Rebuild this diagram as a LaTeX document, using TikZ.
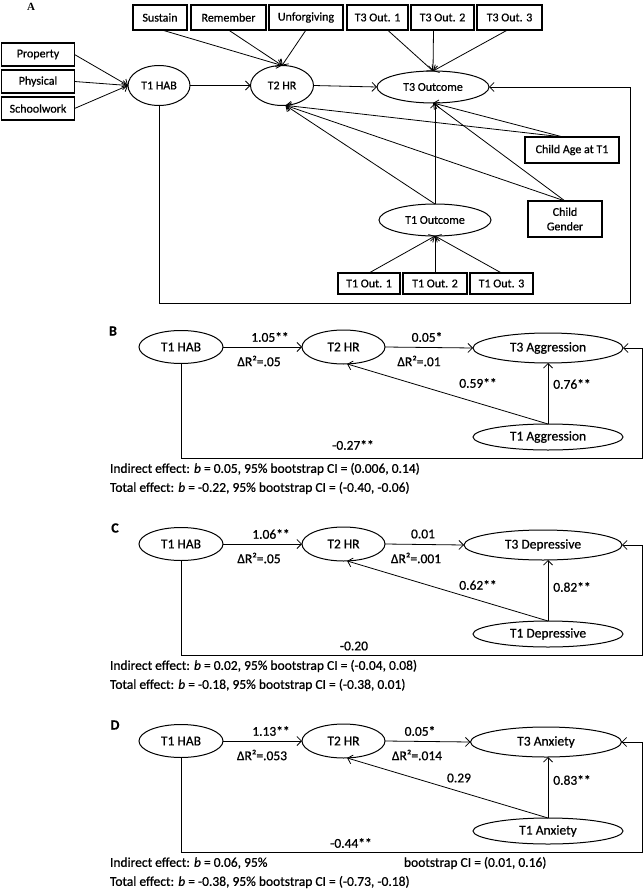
\documentclass[tikz,border=0pt]{standalone}
\usepackage{fontspec}
\setmainfont{Carlito}[RawFeature={embolden=0.7}]
\newfontfamily\serifA{Liberation Serif}
\usetikzlibrary{shapes.geometric,arrows.meta,calc}
\begin{document}
\begin{tikzpicture}[x=1pt,y=-1pt,
  every node/.style={inner sep=0pt,outer sep=0pt},
  fa/.style={font=\fontsize{12}{14.5}\selectfont},
  fb/.style={font=\fontsize{13.5}{16}\selectfont},
  bx/.style={draw,line width=1.2pt,fa,align=center},
  el/.style={draw,ellipse,line width=1pt},
  ar/.style={line width=0.8pt,-{Straight Barb[length=4.5pt,width=9pt,line width=0.8pt]}},
  letterbcd/.style={font=\bfseries\fontsize{14}{16}\selectfont},
]
\useasboundingbox (0,0) rectangle (644,893);

% ---------------- Panel A ----------------
\node[font=\serifA\bfseries\fontsize{11}{13}\selectfont] (labA) at (31,7) {A};

\node[bx,minimum width=54pt,minimum height=25pt] (sus) at (160,17.5) {Sustain};
\node[bx,minimum width=75pt,minimum height=25pt] (rem) at (228.5,17.5) {Remember};
\node[bx,minimum width=74pt,minimum height=25pt] (unf) at (306,17.5) {Unforgiving};
\node[bx,minimum width=61pt,minimum height=25pt] (oa) at (377.5,17.5) {T3 Out. 1};
\node[bx,minimum width=63pt,minimum height=25pt] (ob) at (442.5,17.5) {T3 Out. 2};
\node[bx,minimum width=65pt,minimum height=25pt] (oc) at (509.5,17.5) {T3 Out. 3};

\node[bx,minimum width=73pt,minimum height=23pt] (prop) at (38,54.5) {Property};
\node[bx,minimum width=73pt,minimum height=23pt] (phys) at (38,81.5) {Physical};
\node[bx,minimum width=73pt,minimum height=23pt] (school) at (38,108.5) {Schoolwork};

\node[el,fa,minimum width=62pt,minimum height=40pt] (hab) at (159,85.5) {T1 HAB};
\node[el,fa,minimum width=63pt,minimum height=40pt] (hr) at (282,85.5) {T2 HR};
\node[el,fa,minimum width=112pt,minimum height=32pt] (t3o) at (433,87) {T3 Outcome};
\node[el,fa,minimum width=112pt,minimum height=32pt] (t1o) at (435,220) {T1 Outcome};

\node[bx,minimum width=94pt,minimum height=26pt] (age) at (572,150) {Child Age at T1};
\node[bx,minimum width=74pt,minimum height=36pt] (gen) at (565,219) {Child\\Gender};

\node[bx,minimum width=62pt,minimum height=21pt] (pa) at (369,283.5) {T1 Out. 1};
\node[bx,minimum width=64pt,minimum height=21pt] (pb) at (435,283.5) {T1 Out. 2};
\node[bx,minimum width=63pt,minimum height=21pt] (pc) at (501.5,283.5) {T1 Out. 3};

\draw[ar] (prop.east) -- (hab.west);
\draw[ar] (phys.east) -- (hab.west);
\draw[ar] (school.east) -- (hab.west);
\draw[ar] (hab.east) -- (hr.west);
\draw[ar] (hr.east) -- (t3o.west);
\draw[ar] ($(sus.south)+(2,0)$) -- (hr.north);
\draw[ar] (rem.south) -- (hr.north);
\draw[ar] (unf.south) -- (hr.north);
\draw[ar] ($(oa.south)+(10,0)$) -- (t3o.north);
\draw[ar] ($(ob.south)+(-9,0)$) -- (t3o.north);
\draw[ar] ($(oc.south)+(-2,0)$) -- (t3o.north);
\coordinate (agetop) at ($(age.north)+(-9,0)$);
\draw[ar] (agetop) -- (hr.-80);
\draw[ar] (agetop) -- (t3o.south);
\draw[ar] (gen.north) -- (hr.-80);
\draw[ar] (gen.north) -- (t3o.south);
\draw[ar] (t1o.north) -- (hr.-80);
\draw[ar] (t1o.north) -- (t1o.north |- t3o.south);
\draw[ar] (pa.north) -- (t1o.south);
\draw[ar] (pb.north) -- (t1o.south);
\draw[ar] (pc.north) -- (t1o.south);
\draw[ar] (hab.south) -- (159,303) -- (630,303) -- (630,87) -- (t3o.east);

% ---------------- Panel B ----------------
\node[letterbcd] (labB) at (113,331) {B};
\node[el,fb,minimum width=84pt,minimum height=33pt] (habB) at (181,347) {T1 HAB};
\node[el,fb,minimum width=83pt,minimum height=34pt] (hrB) at (343.5,347) {T2 HR};
\node[el,fb,minimum width=150pt,minimum height=30pt] (t3B) at (548,348) {T3 Aggression};
\node[el,fb,minimum width=150pt,minimum height=26pt] (t1B) at (548,437) {T1 Aggression};
\draw[ar] (habB.east) -- (hrB.west);
\draw[ar] (hrB.east) -- (t3B.west);
\draw[ar] (t1B.north) -- (t1B.north |- t3B.south);
\draw[ar] (t1B.north) -- (hrB.-78);
\draw[ar] (habB.south) -- (181,458) -- (642,458) -- (642,348) -- (t3B.east);
\node[fb] (b1) at (270,337) {1.05**};
\node[fb] (b2) at (259,361) {ΔR²=.05};
\node[fb] (b3) at (427,337) {0.05*};
\node[fb] (b4) at (419,361) {ΔR²=.01};
\node[fb] (b5) at (478,383) {0.59**};
\node[fb] (b6) at (572,384) {0.76**};
\node[fb] (b7) at (353,445) {-0.27**};
\node[fb,anchor=west] (indB) at (110,469) {Indirect effect: \textit{b} = 0.05, 95\% bootstrap CI = (0.006, 0.14)};
\node[fb,anchor=west] (totB) at (110,488) {Total effect: \textit{b} = -0.22, 95\% bootstrap CI = (-0.40, -0.06)};

% ---------------- Panel C ----------------
\node[letterbcd] (labC) at (115,528) {C};
\node[el,fb,minimum width=84pt,minimum height=33pt] (habC) at (181,544) {T1 HAB};
\node[el,fb,minimum width=83pt,minimum height=34pt] (hrC) at (343.5,544) {T2 HR};
\node[el,fb,minimum width=158pt,minimum height=30pt] (t3C) at (543,545) {T3 Depressive};
\node[el,fb,minimum width=150pt,minimum height=26pt] (t1C) at (548,634) {T1 Depressive};
\draw[ar] (habC.east) -- (hrC.west);
\draw[ar] (hrC.east) -- (t3C.west);
\draw[ar] (t1C.north) -- (t1C.north |- t3C.south);
\draw[ar] (t1C.north) -- (hrC.-78);
\draw[ar] (habC.south) -- (181,655) -- (642,655) -- (642,545) -- (t3C.east);
\node[fb] (c1) at (271,534) {1.06**};
\node[fb] (c2) at (259,558) {ΔR²=.05};
\node[fb] (c3) at (423,534) {0.01};
\node[fb] (c4) at (416,558) {ΔR²=.001};
\node[fb] (c5) at (478,585) {0.62**};
\node[fb] (c6) at (572,587) {0.82**};
\node[fb] (c7) at (354,646) {-0.20};
\node[fb,anchor=west] (indC) at (110,666) {Indirect effect: \textit{b} = 0.02, 95\% bootstrap CI = (-0.04, 0.08)};
\node[fb,anchor=west] (totC) at (110,685) {Total effect: \textit{b} = -0.18, 95\% bootstrap CI = (-0.38, 0.01)};

% ---------------- Panel D ----------------
\node[letterbcd] (labD) at (115,725) {D};
\node[el,fb,minimum width=84pt,minimum height=33pt] (habD) at (181,741) {T1 HAB};
\node[el,fb,minimum width=83pt,minimum height=34pt] (hrD) at (343.5,741) {T2 HR};
\node[el,fb,minimum width=151pt,minimum height=30pt] (t3D) at (546,742) {T3 Anxiety};
\node[el,fb,minimum width=150pt,minimum height=26pt] (t1D) at (548,831) {T1 Anxiety};
\draw[ar] (habD.east) -- (hrD.west);
\draw[ar] (hrD.east) -- (t3D.west);
\draw[ar] (t1D.north) -- (t1D.north |- t3D.south);
\draw[ar] (t1D.north) -- (hrD.-78);
\draw[ar] (habD.south) -- (181,852) -- (642,852) -- (642,742) -- (t3D.east);
\node[fb] (d1) at (271,731) {1.13**};
\node[fb] (d2) at (262,755) {ΔR²=.053};
\node[fb] (d3) at (420,731) {0.05*};
\node[fb] (d4) at (417,755) {ΔR²=.014};
\node[fb] (d5) at (459,778) {0.29};
\node[fb] (d6) at (572,780) {0.83**};
\node[fb] (d7) at (351,843) {-0.44**};
\node[fb,anchor=west] (indD) at (110,863) {Indirect effect: \textit{b} = 0.06, 95\%};
\node[fb,anchor=west] (indD2) at (404,863) {bootstrap CI = (0.01, 0.16)};
\node[fb,anchor=west] (totD) at (110,882) {Total effect: \textit{b} = -0.38, 95\% bootstrap CI = (-0.73, -0.18)};
\end{tikzpicture}
\end{document}
